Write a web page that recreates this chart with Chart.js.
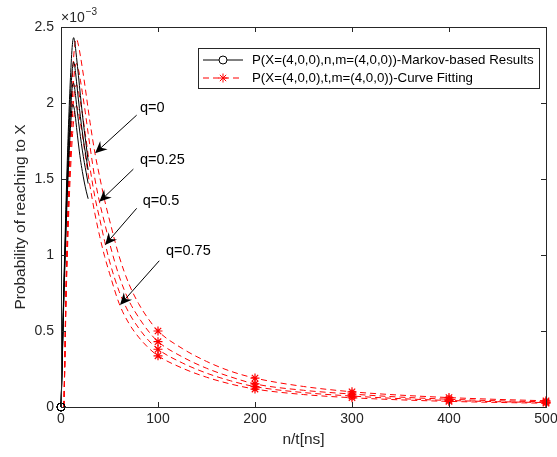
<!DOCTYPE html>
<html lang="en">
<head>
<meta charset="UTF-8" />
<title>Probability of reaching to X</title>
<script src="https://cdn.jsdelivr.net/npm/chart.js"></script>
<style>
  html, body { margin: 0; padding: 0; background: #fff; }
</style>
</head>
<body>
<canvas id="chart" width="557" height="457"></canvas>
<script>
// values are in units of 1e-3 (axis shows x10^-3)

// Markov-based results
const nMarkov = [0, 1, 2, 3, 4, 5, 6, 7, 8, 9, 10, 11, 12, 13, 14, 15, 16, 18, 20, 22, 24, 26, 28];
const markovQ0 = [0, 0.25, 0.55, 0.82, 1.06, 1.3, 1.52, 1.72, 1.9, 2.06, 2.2, 2.32, 2.4, 2.43, 2.41, 2.36, 2.3, 2.18, 2.05, 1.93, 1.82, 1.72, 1.62];
const markovQ25 = [0, 0.24, 0.52, 0.78, 1.0, 1.22, 1.43, 1.62, 1.79, 1.94, 2.07, 2.17, 2.24, 2.27, 2.25, 2.2, 2.14, 2.02, 1.91, 1.81, 1.72, 1.64, 1.56];
const markovQ50 = [0, 0.23, 0.5, 0.75, 0.97, 1.18, 1.37, 1.54, 1.7, 1.84, 1.96, 2.06, 2.12, 2.13, 2.1, 2.05, 1.99, 1.88, 1.78, 1.69, 1.61, 1.54, 1.47];
const markovQ75 = [0, 0.22, 0.48, 0.72, 0.93, 1.13, 1.31, 1.47, 1.62, 1.75, 1.86, 1.95, 1.99, 1.98, 1.95, 1.9, 1.84, 1.73, 1.63, 1.55, 1.48, 1.42, 1.37];

// Curve fitting
const tFit = [3, 4, 5, 6, 7, 8, 9, 10, 11, 12, 13, 14, 15, 16, 18, 20, 22, 25, 28, 30, 35, 40, 45, 50, 60, 70, 80, 90, 100, 125, 150, 175, 200, 250, 300, 350, 400, 450, 500];
const fitQ0 = [0, 0.35, 0.75, 1.05, 1.3, 1.53, 1.74, 1.92, 2.07, 2.2, 2.3, 2.37, 2.41, 2.42, 2.38, 2.31, 2.23, 2.1, 1.96, 1.87, 1.67, 1.51, 1.36, 1.23, 0.99, 0.81, 0.68, 0.58, 0.5, 0.385, 0.3, 0.235, 0.19, 0.135, 0.1, 0.078, 0.062, 0.05, 0.041];
const fitQ25 = [0, 0.33, 0.71, 0.99, 1.23, 1.45, 1.64, 1.8, 1.94, 2.06, 2.15, 2.21, 2.25, 2.26, 2.22, 2.15, 2.07, 1.94, 1.8, 1.71, 1.5, 1.34, 1.21, 1.08, 0.86, 0.7, 0.59, 0.5, 0.43, 0.33, 0.255, 0.198, 0.152, 0.11, 0.085, 0.065, 0.051, 0.041, 0.034];
const fitQ50 = [0, 0.31, 0.67, 0.94, 1.16, 1.36, 1.54, 1.69, 1.82, 1.93, 2.02, 2.08, 2.11, 2.12, 2.08, 2.01, 1.93, 1.8, 1.66, 1.57, 1.38, 1.235, 1.09, 0.96, 0.76, 0.62, 0.52, 0.44, 0.38, 0.29, 0.223, 0.172, 0.134, 0.095, 0.072, 0.055, 0.043, 0.035, 0.029];
const fitQ75 = [0, 0.29, 0.63, 0.88, 1.09, 1.28, 1.44, 1.58, 1.7, 1.8, 1.88, 1.94, 1.97, 1.98, 1.94, 1.87, 1.79, 1.66, 1.53, 1.45, 1.27, 1.12, 0.99, 0.88, 0.68, 0.55, 0.46, 0.39, 0.337, 0.256, 0.196, 0.151, 0.118, 0.082, 0.061, 0.047, 0.037, 0.03, 0.025];
const starAt = [100, 200, 300, 400, 500];

const xTicks = [0, 100, 200, 300, 400, 500];
const yTicks = [0, 0.5, 1, 1.5, 2, 2.5];

const legendLabels = [
  "P(X=(4,0,0),n,m=(4,0,0))-Markov-based Results",
  "P(X=(4,0,0),t,m=(4,0,0))-Curve Fitting"
];

// q labels with arrows (data coords): label pos, arrow start, arrow tip
const qNotes = [
  { text: "q=0", label: [81.4, 1.97], from: [78.0, 1.92], to: [35.1, 1.67] },
  { text: "q=0.25", label: [81.4, 1.625], from: [74.6, 1.565], to: [39.5, 1.35] },
  { text: "q=0.5", label: [84.2, 1.357], from: [78.0, 1.307], to: [45.4, 1.066] },
  { text: "q=0.75", label: [108.2, 1.024], from: [101.3, 0.962], to: [60.8, 0.671] }
];

const FONT = "'Liberation Sans', Arial, Helvetica, sans-serif";
const AXIS_COLOR = "#262626";

function pts(xs, ys) {
  return xs.map((x, i) => ({ x: x, y: ys[i] }));
}

function markovSet(ys) {
  return {
    data: pts(nMarkov, ys),
    borderColor: "#000000",
    borderWidth: 1,
    pointStyle: "circle",
    pointRadius: (c) => (c.dataIndex === 0 ? 4 : 0),
    pointBackgroundColor: "rgba(0,0,0,0)",
    pointBorderColor: "#000000",
    pointBorderWidth: 1,
    cubicInterpolationMode: "monotone",
    clip: false
  };
}

function fitSet(ys) {
  return {
    data: pts(tFit, ys),
    borderColor: "#ff0000",
    borderWidth: 1,
    borderDash: [6, 4],
    pointStyle: "star",
    pointRadius: (c) => (starAt.includes(tFit[c.dataIndex]) ? 4.5 : 0),
    pointBackgroundColor: "#ff0000",
    pointBorderColor: "#ff0000",
    pointBorderWidth: 1.2,
    cubicInterpolationMode: "monotone",
    clip: false
  };
}

function drawArrow(ctx, x1, y1, x2, y2) {
  const a = Math.atan2(y2 - y1, x2 - x1);
  const dx = Math.cos(a), dy = Math.sin(a);
  const L = 12, W = 5.5, N = 8;
  ctx.beginPath();
  ctx.moveTo(x1, y1);
  ctx.lineTo(x2 - dx * N, y2 - dy * N);
  ctx.stroke();
  ctx.beginPath();
  ctx.moveTo(x2, y2);
  ctx.lineTo(x2 - dx * L - dy * W, y2 - dy * L + dx * W);
  ctx.lineTo(x2 - dx * N, y2 - dy * N);
  ctx.lineTo(x2 - dx * L + dy * W, y2 - dy * L - dx * W);
  ctx.closePath();
  ctx.fill();
}

const decor = {
  id: "decor",
  afterDraw(chart) {
    const ctx = chart.ctx;
    const xs = chart.scales.x, ys = chart.scales.y;
    const { left, right, top, bottom } = chart.chartArea;
    ctx.save();

    // axes box + inward ticks
    ctx.strokeStyle = AXIS_COLOR;
    ctx.lineWidth = 1;
    ctx.strokeRect(Math.round(left) + 0.5, Math.round(top) + 0.5, Math.round(right - left), Math.round(bottom - top));
    ctx.beginPath();
    xTicks.forEach((v) => {
      const px = Math.round(xs.getPixelForValue(v)) + 0.5;
      ctx.moveTo(px, bottom); ctx.lineTo(px, bottom - 5);
      ctx.moveTo(px, top); ctx.lineTo(px, top + 5);
    });
    yTicks.forEach((v) => {
      const py = Math.round(ys.getPixelForValue(v)) + 0.5;
      ctx.moveTo(left, py); ctx.lineTo(left + 5, py);
      ctx.moveTo(right, py); ctx.lineTo(right - 5, py);
    });
    ctx.stroke();

    // exponent label
    ctx.fillStyle = AXIS_COLOR;
    ctx.textBaseline = "alphabetic";
    ctx.textAlign = "left";
    ctx.font = "14px " + FONT;
    ctx.fillText("\u00d710", left, top - 5.5);
    const w = ctx.measureText("\u00d710").width;
    ctx.font = "10px " + FONT;
    ctx.fillText("\u22123", left + w + 1, top - 12);

    // q annotations
    ctx.strokeStyle = "#000";
    ctx.fillStyle = "#000";
    ctx.lineWidth = 1;
    qNotes.forEach((q) => {
      drawArrow(ctx,
        xs.getPixelForValue(q.from[0]), ys.getPixelForValue(q.from[1]),
        xs.getPixelForValue(q.to[0]), ys.getPixelForValue(q.to[1]));
      ctx.font = "14.5px " + FONT;
      ctx.textBaseline = "middle";
      ctx.fillStyle = "#000";
      ctx.fillText(q.text, xs.getPixelForValue(q.label[0]), ys.getPixelForValue(q.label[1]));
    });

    // legend
    const bx = right - 348, by = top + 21, bw = 341, bh = 40;
    ctx.fillStyle = "#fff";
    ctx.fillRect(bx, by, bw, bh);
    ctx.strokeStyle = AXIS_COLOR;
    ctx.lineWidth = 1;
    ctx.strokeRect(Math.round(bx) + 0.5, Math.round(by) + 0.5, bw, bh);
    const rows = [by + 12, by + 30];
    const lx1 = bx + 5, lx2 = bx + 45, mx = bx + 25;
    // row 1: black line + circle
    ctx.strokeStyle = "#000";
    ctx.setLineDash([]);
    ctx.beginPath(); ctx.moveTo(lx1, rows[0]); ctx.lineTo(lx2, rows[0]); ctx.stroke();
    ctx.fillStyle = "#fff";
    ctx.beginPath(); ctx.arc(mx, rows[0], 4, 0, Math.PI * 2); ctx.fill(); ctx.stroke();
    // row 2: red dashed + star
    ctx.strokeStyle = "#ff0000";
    ctx.setLineDash([6, 4]);
    ctx.beginPath(); ctx.moveTo(lx1, rows[1]); ctx.lineTo(lx2, rows[1]); ctx.stroke();
    ctx.setLineDash([]);
    ctx.beginPath();
    for (let k = 0; k < 4; k++) {
      const ang = k * Math.PI / 4;
      ctx.moveTo(mx - 4.5 * Math.cos(ang), rows[1] - 4.5 * Math.sin(ang));
      ctx.lineTo(mx + 4.5 * Math.cos(ang), rows[1] + 4.5 * Math.sin(ang));
    }
    ctx.stroke();
    ctx.fillStyle = "#000";
    ctx.font = "13.3px " + FONT;
    ctx.textBaseline = "middle";
    ctx.fillText(legendLabels[0], bx + 54, rows[0]);
    ctx.fillText(legendLabels[1], bx + 54, rows[1]);

    ctx.restore();
  }
};

new Chart(document.getElementById("chart"), {
  type: "line",
  data: {
    datasets: [
      markovSet(markovQ0), markovSet(markovQ25), markovSet(markovQ50), markovSet(markovQ75),
      fitSet(fitQ0), fitSet(fitQ25), fitSet(fitQ50), fitSet(fitQ75)
    ]
  },
  options: {
    responsive: false,
    animation: false,
    events: [],
    layout: { padding: { top: 27, right: 11, left: 0, bottom: 0 } },
    plugins: { legend: { display: false }, tooltip: { enabled: false } },
    scales: {
      x: {
        type: "linear",
        min: 0, max: 500,
        afterFit: (s) => { s.height = 50; s.paddingLeft = 0; s.paddingRight = 0; },
        afterBuildTicks: (s) => { s.ticks = xTicks.map((v) => ({ value: v })); },
        grid: { display: false, drawTicks: false },
        border: { display: false },
        ticks: { color: AXIS_COLOR, font: { family: FONT, size: 14 }, padding: 4, maxRotation: 0, callback: (v) => String(v) },
        title: { display: true, text: "n/t[ns]", color: AXIS_COLOR, font: { family: FONT, size: 15.5 }, padding: { top: 0, bottom: 8 } }
      },
      y: {
        type: "linear",
        min: 0, max: 2.5,
        afterFit: (s) => { s.width = 61; s.paddingTop = 0; s.paddingBottom = 0; },
        afterBuildTicks: (s) => { s.ticks = yTicks.map((v) => ({ value: v })); },
        grid: { display: false, drawTicks: false },
        border: { display: false },
        ticks: { color: AXIS_COLOR, font: { family: FONT, size: 14 }, padding: 7, callback: (v) => String(v) },
        title: { display: true, text: "Probability of reaching to X", color: AXIS_COLOR, font: { family: FONT, size: 15.5 }, padding: { top: 11, bottom: 0 } }
      }
    }
  },
  plugins: [decor]
});
</script>
</body>
</html>
